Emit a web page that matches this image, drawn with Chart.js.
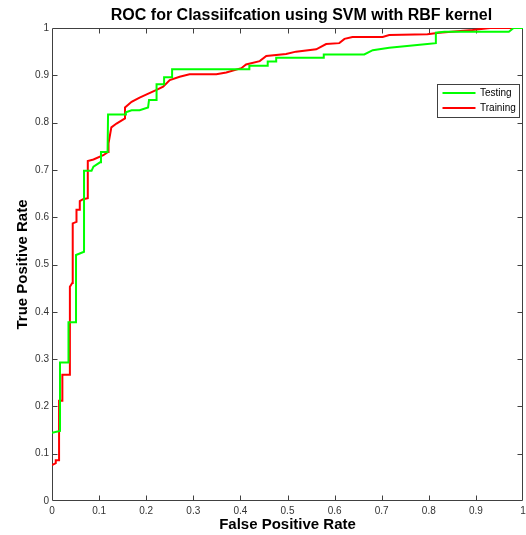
<!DOCTYPE html>
<html><head><meta charset="utf-8">
<script src="https://cdn.jsdelivr.net/npm/chart.js@4/dist/chart.umd.min.js"></script>
<style>html,body{margin:0;padding:0;background:#fff;overflow:hidden}</style>
</head><body>
<canvas id="c" width="526" height="535"></canvas>
<script>
const chartTitle = 'ROC for Classiifcation using SVM with RBF kernel';
const xAxisTitle = 'False Positive Rate';
const yAxisTitle = 'True Positive Rate';
const seriesNames = ['Testing', 'Training'];
const seriesColors = ['#00ff00', '#ff0000'];

const testingFPR = [0, 0.017, 0.017, 0.035, 0.035, 0.051, 0.051, 0.068, 0.068, 0.084, 0.088, 0.102, 0.104, 0.118, 0.119, 0.155, 0.157, 0.169, 0.186, 0.204, 0.206, 0.222, 0.222, 0.238, 0.238, 0.255, 0.255, 0.405, 0.419, 0.419, 0.458, 0.458, 0.476, 0.476, 0.577, 0.577, 0.663, 0.681, 0.716, 0.797, 0.815, 0.815, 0.833, 0.97, 0.98, 1];
const testingTPR = [0.144, 0.148, 0.293, 0.293, 0.378, 0.378, 0.52, 0.527, 0.698, 0.698, 0.707, 0.716, 0.738, 0.738, 0.817, 0.817, 0.822, 0.826, 0.826, 0.832, 0.848, 0.848, 0.881, 0.881, 0.896, 0.896, 0.913, 0.913, 0.913, 0.92, 0.92, 0.929, 0.929, 0.937, 0.937, 0.944, 0.944, 0.953, 0.958, 0.966, 0.968, 0.99, 0.992, 0.992, 1, 1];

const trainingFPR = [0, 0.008, 0.008, 0.015, 0.015, 0.022, 0.022, 0.038, 0.038, 0.043, 0.044, 0.052, 0.052, 0.059, 0.059, 0.066, 0.076, 0.076, 0.088, 0.109, 0.119, 0.12, 0.126, 0.137, 0.155, 0.155, 0.169, 0.186, 0.208, 0.222, 0.236, 0.25, 0.271, 0.292, 0.349, 0.37, 0.402, 0.412, 0.441, 0.455, 0.497, 0.518, 0.561, 0.582, 0.61, 0.621, 0.638, 0.702, 0.716, 0.797, 0.822, 0.893, 0.93, 1];
const trainingTPR = [0.076, 0.08, 0.086, 0.086, 0.212, 0.212, 0.267, 0.267, 0.453, 0.461, 0.587, 0.59, 0.616, 0.616, 0.634, 0.638, 0.64, 0.719, 0.722, 0.731, 0.738, 0.756, 0.79, 0.798, 0.809, 0.832, 0.844, 0.853, 0.863, 0.869, 0.876, 0.89, 0.897, 0.902, 0.902, 0.906, 0.915, 0.923, 0.93, 0.941, 0.945, 0.95, 0.955, 0.966, 0.968, 0.977, 0.981, 0.981, 0.985, 0.987, 0.99, 0.996, 1, 1];

const tickValues = [0, 0.1, 0.2, 0.3, 0.4, 0.5, 0.6, 0.7, 0.8, 0.9, 1];
const tickLabels = ['0', '0.1', '0.2', '0.3', '0.4', '0.5', '0.6', '0.7', '0.8', '0.9', '1'];

const FONT = 'Liberation Sans, Arial, Helvetica, sans-serif';
const AXIS_COLOR = '#404040';

function toPoints(xs, ys) { return xs.map((x, i) => ({ x: x, y: ys[i] })); }

const framePlugin = {
  id: 'frame',
  beforeDatasetsDraw(chart) {
    const { ctx, chartArea: a, scales } = chart;
    const L = Math.round(a.left) + 0.5, R = Math.round(a.right) - 0.5;
    const T = Math.round(a.top) + 0.5, B = Math.round(a.bottom) - 0.5;
    ctx.save();
    ctx.strokeStyle = AXIS_COLOR;
    ctx.lineWidth = 1;
    ctx.beginPath();
    ctx.rect(L, T, R - L, B - T);
    const tl = 5;
    tickValues.forEach(v => {
      if (v === 0 || v === 1) return;
      const px = Math.round(scales.x.getPixelForValue(v)) + 0.5;
      ctx.moveTo(px, B); ctx.lineTo(px, B - tl);
      ctx.moveTo(px, T); ctx.lineTo(px, T + tl);
      const py = Math.round(scales.y.getPixelForValue(v)) + 0.5;
      ctx.moveTo(L, py); ctx.lineTo(L + tl, py);
      ctx.moveTo(R, py); ctx.lineTo(R - tl, py);
    });
    ctx.stroke();
    ctx.restore();
  },
  afterDraw(chart) {
    const { ctx, chartArea: a } = chart;
    ctx.save();
    ctx.fillStyle = '#000';
    ctx.font = 'bold 16px ' + FONT;
    ctx.textAlign = 'center';
    ctx.textBaseline = 'middle';
    ctx.fillText(chartTitle, (a.left + a.right) / 2 + 14, 15.5);
    ctx.restore();
  }
};

const legendPlugin = {
  id: 'boxLegend',
  afterDatasetsDraw(chart) {
    const { ctx } = chart;
    const bx = 437.5, by = 84.5, bw = 82, bh = 33;
    ctx.save();
    ctx.fillStyle = '#ffffff';
    ctx.fillRect(bx, by, bw, bh);
    ctx.strokeStyle = '#404040';
    ctx.lineWidth = 1;
    ctx.strokeRect(bx, by, bw, bh);
    ctx.font = '10px ' + FONT;
    ctx.textBaseline = 'middle';
    ctx.textAlign = 'left';
    chart.data.datasets.forEach((ds, i) => {
      const ly = by + 8.5 + i * 15;
      ctx.strokeStyle = ds.borderColor;
      ctx.lineWidth = 2;
      ctx.beginPath();
      ctx.moveTo(bx + 5, ly); ctx.lineTo(bx + 38, ly);
      ctx.stroke();
      ctx.fillStyle = '#000';
      ctx.fillText(ds.label, bx + 42.5, ly);
    });
    ctx.restore();
  }
};

new Chart(document.getElementById('c'), {
  type: 'line',
  data: {
    datasets: [
      { label: seriesNames[0], data: toPoints(testingFPR, testingTPR), borderColor: seriesColors[0], backgroundColor: seriesColors[0], borderWidth: 2, pointRadius: 0, tension: 0, fill: false },
      { label: seriesNames[1], data: toPoints(trainingFPR, trainingTPR), borderColor: seriesColors[1], backgroundColor: seriesColors[1], borderWidth: 2, pointRadius: 0, tension: 0, fill: false }
    ]
  },
  options: {
    responsive: false,
    animation: false,
    devicePixelRatio: 1,
    layout: { padding: { left: 0, right: 0, top: 28, bottom: 0 } },
    plugins: {
      legend: { display: false },
      tooltip: { enabled: false },
      title: { display: false }
    },
    scales: {
      x: {
        type: 'linear', min: 0, max: 1,
        afterBuildTicks: s => { s.ticks = tickValues.map(v => ({ value: v })); },
        afterFit: s => { s.height = 34; s.paddingLeft = 0; s.paddingRight = 3; },
        ticks: { callback: (v, i) => tickLabels[i], color: '#333', font: { family: FONT, size: 10 }, padding: 4, maxRotation: 0, autoSkip: false },
        grid: { display: true, drawOnChartArea: false, drawTicks: false },
        border: { display: false },
        title: { display: true, text: xAxisTitle, color: '#000', font: { family: FONT, size: 15, weight: 'bold' }, padding: { top: 0, bottom: 1.5 } }
      },
      y: {
        type: 'linear', min: 0, max: 1,
        afterBuildTicks: s => { s.ticks = tickValues.map(v => ({ value: v })); },
        afterFit: s => { s.width = 52; s.paddingTop = 0; s.paddingBottom = 0; },
        ticks: { callback: (v, i) => tickLabels[i], color: '#333', font: { family: FONT, size: 10 }, padding: 3, autoSkip: false },
        grid: { display: true, drawOnChartArea: false, drawTicks: false },
        border: { display: false },
        title: { display: true, text: yAxisTitle, color: '#000', font: { family: FONT, size: 15, weight: 'bold' }, padding: { top: 14, bottom: 0 } }
      }
    }
  },
  plugins: [framePlugin, legendPlugin]
});
</script>
</body></html>
